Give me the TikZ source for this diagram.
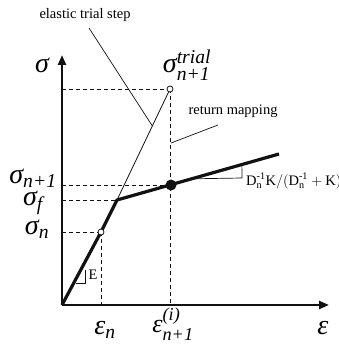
\documentclass[tikz,border=0pt]{standalone}
\usepackage{amsmath}
\usepackage{fontspec}
\setmainfont{Liberation Serif}
\usepackage{xcolor}
\usepackage{tikz}
\usetikzlibrary{arrows.meta,calc}
\definecolor{ink}{HTML}{111111}
\tikzset{
  axis/.style={draw=ink,line width=2.4pt,-{Triangle[length=10pt,width=8pt]}},
  curve/.style={draw=ink,line width=3.2pt,line join=round},
  trialline/.style={draw=ink,line width=0.8pt},
  guide/.style={draw=ink,line width=0.8pt,dash pattern=on 4pt off 3pt},
  leader/.style={draw=ink,line width=0.7pt},
  opendot/.style={circle,draw=ink,fill=white,line width=0.8pt,inner sep=0pt,minimum size=6pt},
  fulldot/.style={circle,fill=ink,inner sep=0pt,minimum size=11pt},
  sym/.style={font=\fontsize{28}{30}\selectfont,inner sep=0pt},
  note/.style={font=\fontsize{14.5}{16}\selectfont,inner sep=0pt},
}
\newcommand{\ti}[1]{\textit{#1}}
\begin{document}
\begin{tikzpicture}[x=1pt,y=-1pt]
  \useasboundingbox (0,0) rectangle (338,344);
  \coordinate (O) at (62,305);
  \coordinate (ytop) at (62,55);
  \coordinate (xend) at (329,305);
  \coordinate (sn) at (101,232);
  \coordinate (sf) at (117,200);
  \coordinate (snp) at (171,185);
  \coordinate (str) at (170,89);
  \coordinate (hend) at (279,154);
  % guides
  \draw[guide] (O|-str) -- (str);
  \draw[guide] (O|-snp) -- (snp);
  \draw[guide] (O|-sf) -- (sf);
  \draw[guide] (O|-sn) -- (sn);
  \draw[guide] (sn) -- (sn|-O);
  \draw[guide] (str) -- (str|-O);
  % axes
  \draw[axis] (O) -- (ytop);
  \draw[axis] (O) -- (xend);
  % elastic trial step and the response
  \draw[trialline] (sf) -- (str);
  \draw[curve] (O) -- (sn) -- (sf) -- (hend);
  % slope marks
  \draw[leader] (85,270) -- (85,283) -- (76,283);
  \draw[leader] ($(snp)!0.2!(hend)$) -- (242,178) -- ($(snp)!0.656!(hend)$);
  \node[opendot] (dsn) at (sn) {};
  \node[opendot] (dstr) at (str) {};
  \node[fulldot] (dsnp) at (snp) {};
  % leaders
  \coordinate (ets) at ($(sf)!0.667!(str)$);
  \coordinate (rm) at (171,143);
  \node[note] (lets) at (85,15) {elastic trial step};
  \node[note] (lrm) at (233,111) {return mapping};
  \draw[leader] (89,28) -- (ets);
  \draw[leader] (218,125) -- (rm);
  % labels
  \node[sym] (lsig) at (42,65) {$\ti{σ}$};
  \node[sym] (lstr) at (187,65) {$\ti{σ}^{\ti{trial}}_{\ti{n+1}}$};
  \node[sym] (lsnp) at (33,178) {$\ti{σ}_{\ti{n+1}}$};
  \node[sym] (lsf) at (33,203) {$\ti{σ}_{\ti{f}}$};
  \node[sym] (lsn) at (37,229) {$\ti{σ}_{\ti{n}}$};
  \node[sym] (len) at (105,330) {$\ti{ε}_{\ti{n}}$};
  \node[sym,font=\fontsize{26}{28}\selectfont] (lenp) at (173,324) {$\ti{ε}^{\ti{(i)}}_{\ti{n+1}}$};
  \node[sym] (leps) at (323,328) {$\ti{ε}$};
  \node[note] (lE) at (93,275) {E};
  \node[note,anchor=west] (lslope) at (246,181)
    {$\mathrm{D}^{\text{-1}}_{\mathrm{n}}\mathrm{K}/(\mathrm{D}^{\text{-1}}_{\mathrm{n}}+\mathrm{K})$};
\end{tikzpicture}
\end{document}
